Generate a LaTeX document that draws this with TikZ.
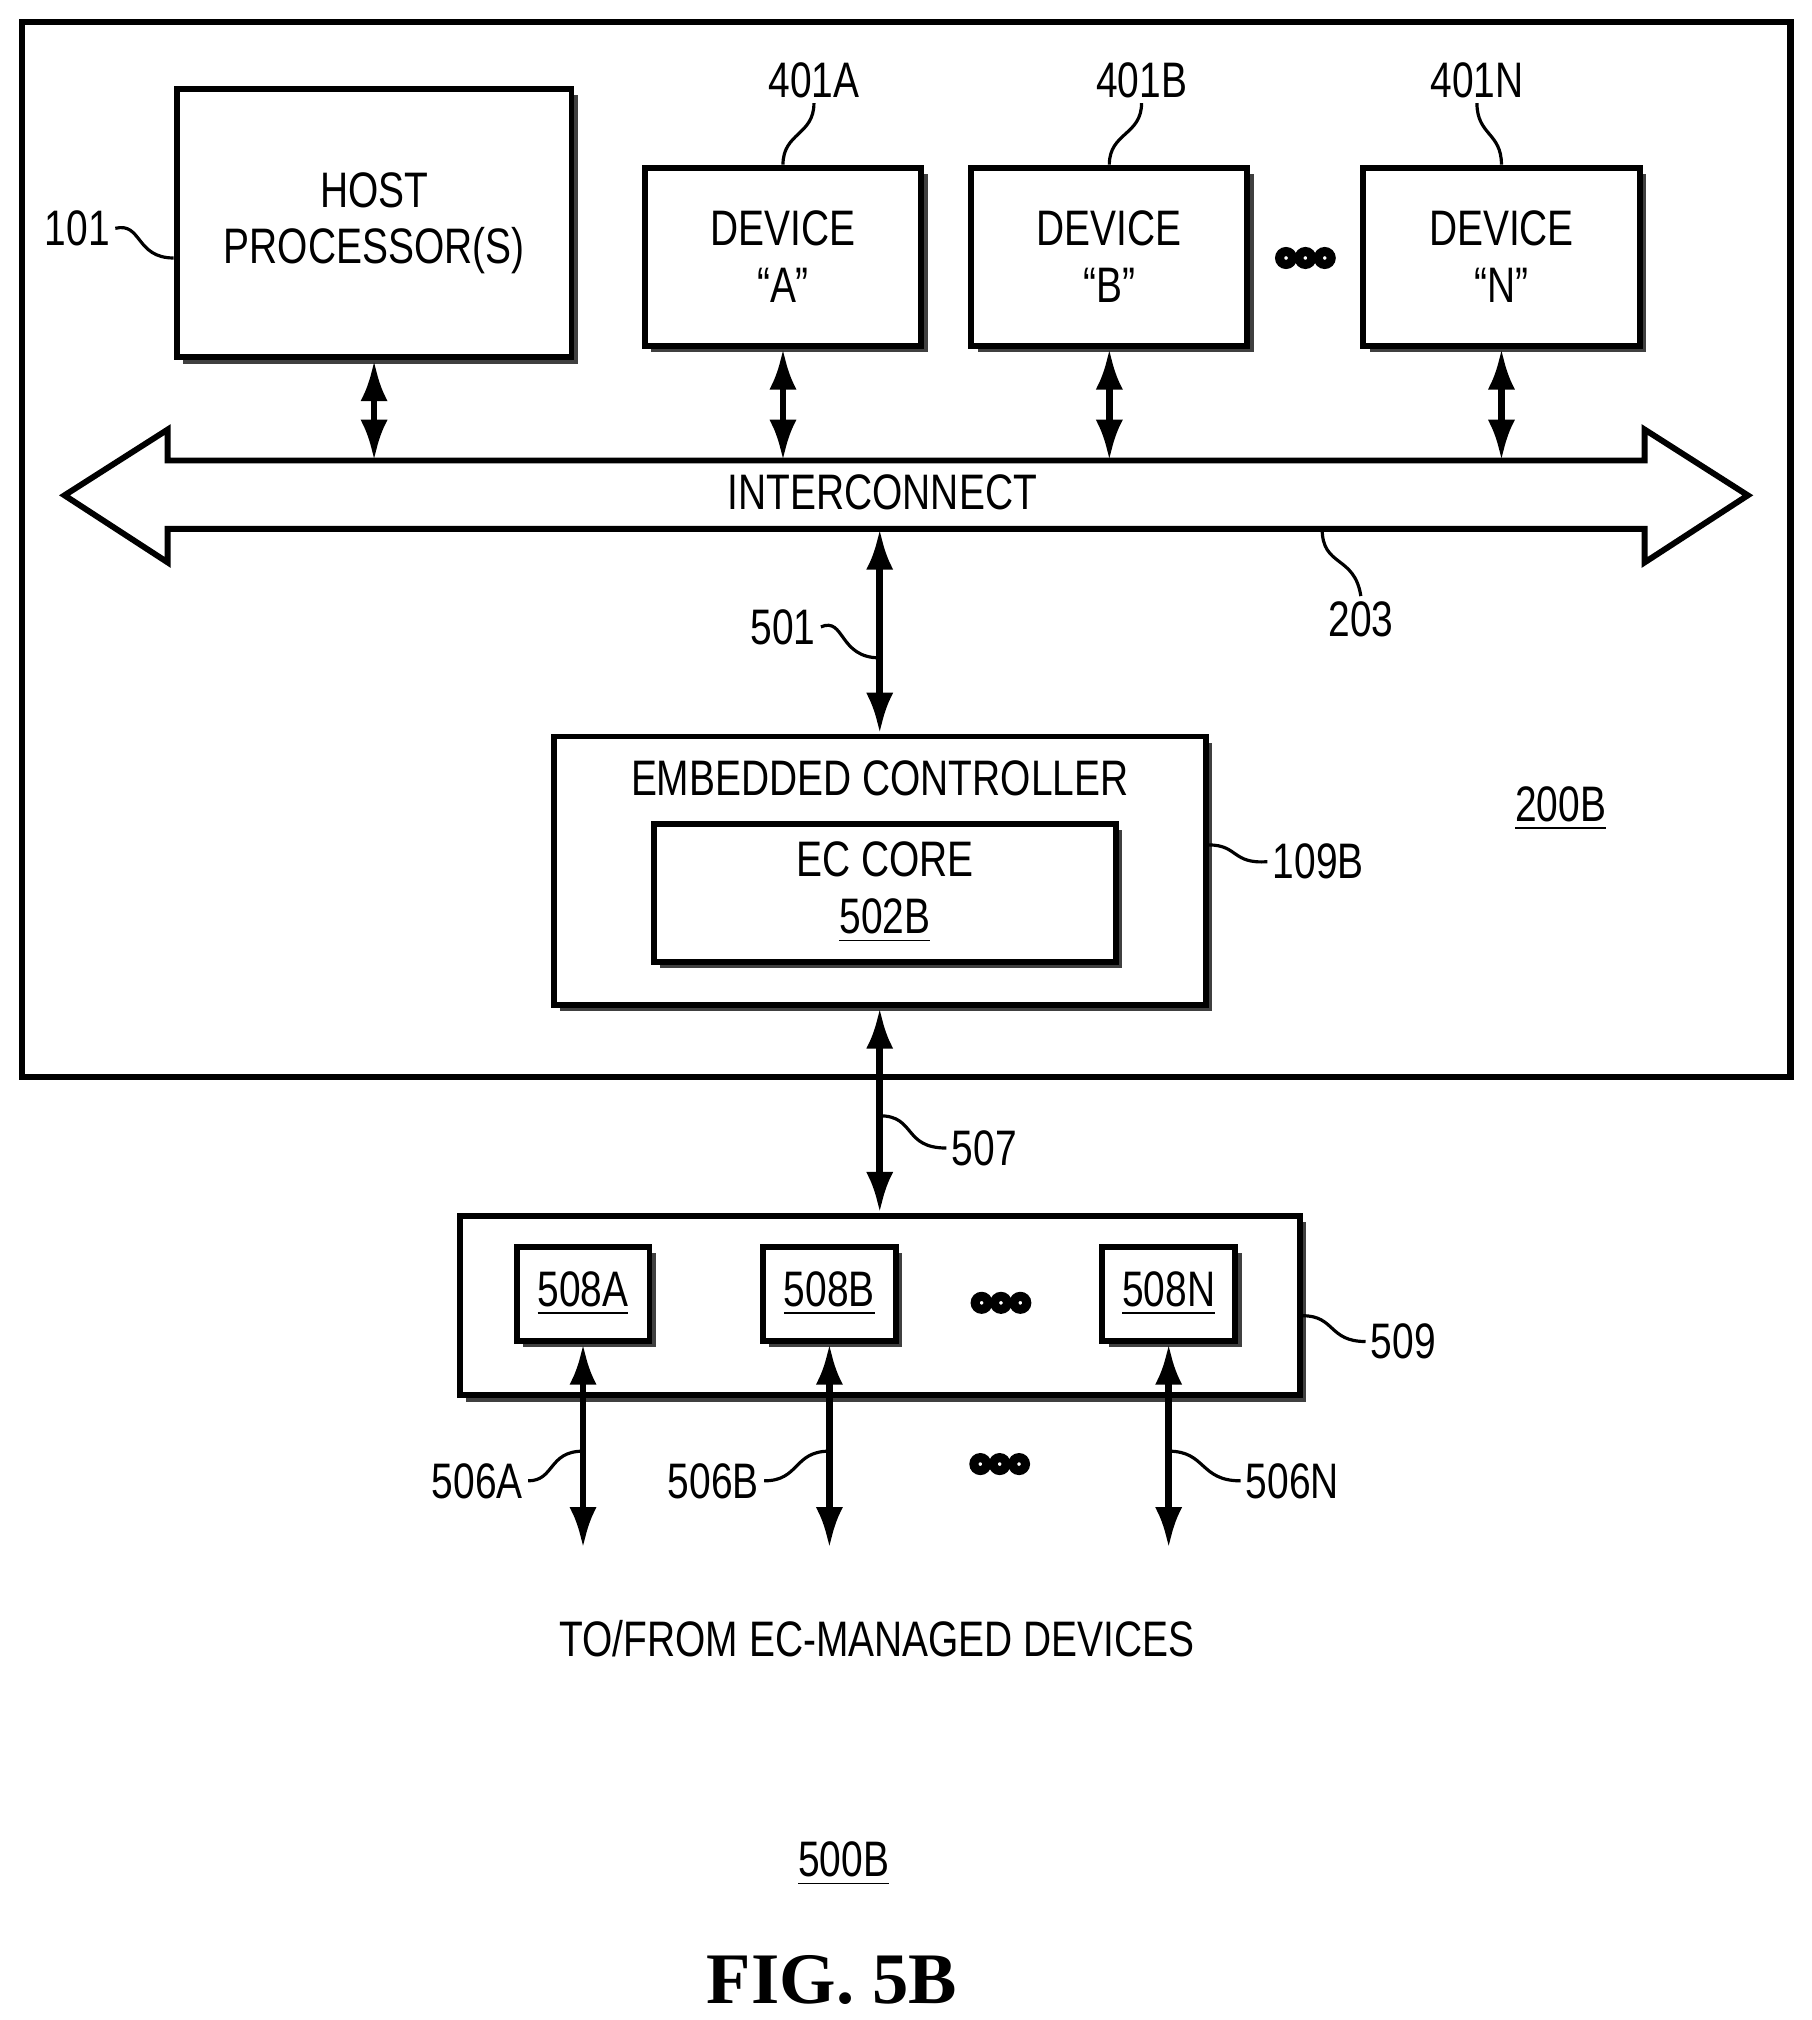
\documentclass[tikz,border=0pt]{standalone}
\usepackage{fontspec}
\setmainfont[FakeStretch=0.78]{Liberation Sans}
\newfontfamily\figfont{Liberation Serif}
\usetikzlibrary{arrows.meta,shadows,calc}
\tikzset{>={Latex[length=9pt,width=6pt]}}
\tikzset{
  box/.style={draw,line width=1.3pt,fill=white,align=center,font=\fontsize{11}{12.5}\selectfont,
    drop shadow={shadow xshift=0.05cm,shadow yshift=-0.05cm,opacity=1,fill=black!75}},
  link/.style={<->,line width=1.5pt},
  lbl/.style={font=\fontsize{11}{12.5}\selectfont,inner sep=1pt},
  leader/.style={line width=0.7pt},
  dot/.style={line width=2pt}
}
\newcommand\ellipsisdots[1]{%
  \foreach \d in {-15,0,15} { \draw[dot] ($(#1)+(\d,0)$) circle (5); }}
\begin{document}
\begin{tikzpicture}[x=0.01cm,y=-0.01cm]
  \useasboundingbox (0,0) rectangle (1404,1566);
  % outer system
  \draw[line width=1.5pt] (17,17) rectangle (1388,835);
  % host and devices
  \node[box,minimum width=3.06cm,minimum height=2.08cm] (host) at (290,173) {HOST\\PROCESSOR(S)};
  \node[box,minimum width=2.14cm,minimum height=1.38cm] (devA) at (607,199) {DEVICE\\``A''};
  \node[box,minimum width=2.14cm,minimum height=1.38cm] (devB) at (860,199) {DEVICE\\``B''};
  \node[box,minimum width=2.14cm,minimum height=1.38cm] (devN) at (1164,199) {DEVICE\\``N''};
  \coordinate (dots1) at (1012,200);
  \ellipsisdots{dots1}
  % interconnect
  \draw[line width=1.3pt,fill=white] (50,384) -- (130,333) -- (130,357) -- (1275,357) -- (1275,333)
    -- (1355,384) -- (1275,436) -- (1275,410) -- (130,410) -- (130,436) -- cycle;
  \node[lbl] (bus) at (684,382) {INTERCONNECT};
  \coordinate (bustop) at (0,357);
  \coordinate (busbot) at (0,410);
  \foreach \n in {host,devA,devB,devN} {
    \draw[link] (\n.south) -- (\n.south|-bustop);
  }
  % labels for the top row
  \node[lbl] (l101) at (60,177) {101};
  \draw[leader] (l101.east) .. controls (110,172) and (105,200) .. (host.west|-0,200);
  \foreach \n/\t/\x in {devA/401A/631,devB/401B/885,devN/401N/1145} {
    \node[lbl] (l\t) at (\x,62) {\t};
    \draw[leader] (l\t.south) .. controls +(0,25) and ($(\n.north)+(0,-25)$) .. (\n.north);
  }
  \node[lbl] (l203) at (1055,480) {203};
  \draw[leader] (l203.north) .. controls (1050,430) and (1025,440) .. (1025,410);
  % embedded controller
  \node[box,minimum width=5.05cm,minimum height=2.08cm] (ec) at (682,675) {};
  \node[lbl] (ectitle) at (682,603) {EMBEDDED CONTROLLER};
  \node[box,minimum width=3.58cm,minimum height=1.07cm] (core) at (686,692) {EC CORE\\\underline{502B}};
  \node[lbl] (l200B) at (1210,627) {\underline{200B}};
  \draw[link] (ec.north|-busbot) -- (ec.north);
  \node[lbl] (l501) at (607,486) {501};
  \draw[leader] (l501.east) .. controls (655,478) and (650,510) .. (682,510);
  \node[lbl] (l109B) at (1022,668) {109B};
  \draw[leader] (ec.east|-0,655) .. controls (960,655) and (955,670) .. (l109B.west);
  % peripheral block
  \node[box,minimum width=6.51cm,minimum height=1.39cm] (ports) at (682,1012) {};
  \draw[link] (ec.south) -- (ports.north);
  \node[lbl] (l507) at (763,890) {507};
  \draw[leader] (682,865) .. controls (710,865) and (700,890) .. (l507.west);
  \node[lbl] (l509) at (1088,1040) {509};
  \draw[leader] (ports.east|-0,1020) .. controls (1035,1020) and (1030,1040) .. (l509.west);
  \foreach \n/\t/\x in {pA/508A/452,pB/508B/643,pN/508N/906} {
    \node[box,minimum width=1.03cm,minimum height=0.73cm] (\n) at (\x,1003) {\underline{\t}};
    \coordinate (e\n) at (\x,1200);
    \draw[link] (\n.south) -- (e\n);
  }
  \coordinate (dots2) at (776,1010);
  \ellipsisdots{dots2}
  \coordinate (dots3) at (775,1135);
  \ellipsisdots{dots3}
  \node[lbl] (l506A) at (370,1148) {506A};
  \draw[leader] (l506A.east) .. controls (430,1148) and (425,1125) .. (452,1125);
  \node[lbl] (l506B) at (553,1148) {506B};
  \draw[leader] (l506B.east) .. controls (620,1148) and (615,1125) .. (643,1125);
  \node[lbl] (l506N) at (1002,1148) {506N};
  \draw[leader] (906,1125) .. controls (935,1125) and (930,1148) .. (l506N.west);
  % captions
  \node[lbl] (ext) at (680,1270) {TO/FROM EC-MANAGED DEVICES};
  \node[lbl] (l500B) at (654,1445) {\underline{500B}};
  \node[font=\figfont\bfseries\fontsize{16}{16}\selectfont] (fig) at (645,1535) {FIG. 5B};
\end{tikzpicture}
\end{document}
